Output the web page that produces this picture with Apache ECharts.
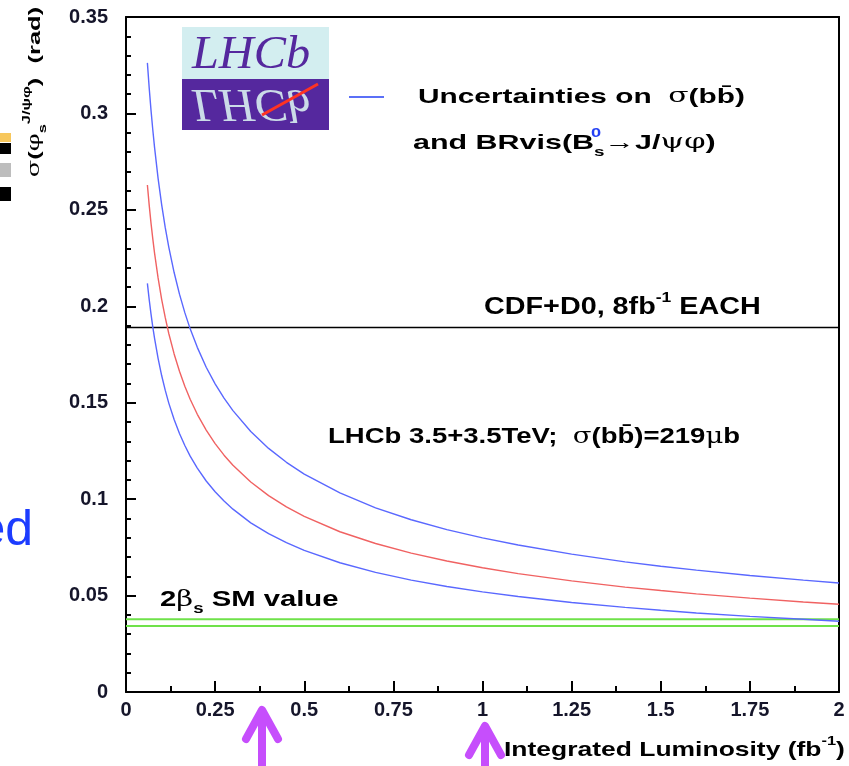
<!DOCTYPE html>
<html>
<head>
<meta charset="utf-8">
<script src="https://cdn.jsdelivr.net/npm/echarts@6/dist/echarts.min.js"></script>
<style>
  html, body { margin: 0; padding: 0; background: #fff; }
  #chart { width: 849px; height: 766px; }
</style>
</head>
<body>
<div id="chart"></div>
<script>
// Integrated luminosity (fb^-1) at which the sensitivity curves are sampled
const lumi = [0.06, 0.065, 0.07, 0.075, 0.08, 0.09, 0.1, 0.11, 0.12, 0.135, 0.15, 0.165, 0.18, 0.2,
              0.225, 0.25, 0.275, 0.3, 0.35, 0.4, 0.45, 0.5, 0.6, 0.7, 0.8, 0.9, 1.0, 1.1, 1.25,
              1.4, 1.5, 1.6, 1.75, 1.9, 2.0];
// sigma(phi_s) in rad: upper edge of the uncertainty band
const upperBand = [0.3262, 0.3134, 0.3020, 0.2918, 0.2825, 0.2663, 0.2527, 0.2409, 0.2307, 0.2175, 0.2063,
                   0.1967, 0.1883, 0.1787, 0.1684, 0.1598, 0.1524, 0.1459, 0.1351, 0.1263, 0.1191, 0.1130,
                   0.1032, 0.0955, 0.0893, 0.0842, 0.0799, 0.0762, 0.0715, 0.0675, 0.0652, 0.0632, 0.0604,
                   0.0580, 0.0565];
// central LHCb expectation at 3.5+3.5 TeV
const central = [0.2629, 0.2526, 0.2434, 0.2352, 0.2277, 0.2147, 0.2036, 0.1942, 0.1859, 0.1753, 0.1663,
                 0.1585, 0.1518, 0.1440, 0.1358, 0.1288, 0.1228, 0.1176, 0.1089, 0.1018, 0.0960, 0.0911,
                 0.0831, 0.0770, 0.0720, 0.0679, 0.0644, 0.0614, 0.0576, 0.0544, 0.0526, 0.0509, 0.0487,
                 0.0467, 0.0455];
// lower edge of the uncertainty band
const lowerBand = [0.2119, 0.2036, 0.1962, 0.1895, 0.1835, 0.1730, 0.1641, 0.1565, 0.1498, 0.1413, 0.1340,
                   0.1278, 0.1223, 0.1161, 0.1094, 0.1038, 0.0990, 0.0948, 0.0877, 0.0821, 0.0774, 0.0734,
                   0.0670, 0.0620, 0.0580, 0.0547, 0.0519, 0.0495, 0.0464, 0.0439, 0.0424, 0.0410, 0.0392,
                   0.0377, 0.0367];
// Tevatron reach (CDF+D0, 8 fb^-1 each) and the Standard Model 2*beta_s band
const tevatronLevel = [0.189];
const smBand = [0.0377, 0.0342];
const lumiRange = [0, 2];
// Axis ticks
const xTicks = ['0', '0.25', '0.5', '0.75', '1', '1.25', '1.5', '1.75', '2'];
const yTicks = ['0', '0.05', '0.1', '0.15', '0.2', '0.25', '0.3', '0.35'];

const FONT = '"Liberation Sans", Arial, Helvetica, sans-serif';
const SERIF = '"DejaVu Serif", "Liberation Serif", serif';
const BLUE_LINE = '#5a68ff';
const RED_LINE = '#f06262';
const BLUE_TXT = '#2440f4';
const RED_TXT = '#ec3a30';
const GREEN = '#6fe24a';
const ARROW = '#c64efc';

const pairs = ys => lumi.map((x, i) => [x, ys[i]]);
const level = v => lumiRange.map(x => [x, v]);

const chart = echarts.init(document.getElementById('chart'), null, { renderer: 'canvas' });

const tickLabel = { fontFamily: FONT, fontSize: 20, fontWeight: 'bold', color: '#15152a' };

function richSet(size, color) {
  const lh = size + 10;
  return {
    n: { fontFamily: FONT, fontSize: size, fontWeight: 'bold', color: color, lineHeight: lh },
    g: { fontFamily: SERIF, fontSize: size, fontWeight: 'normal', color: color, lineHeight: lh },
    sup: { fontFamily: FONT, fontSize: Math.round(size * 0.62), fontWeight: 'bold', color: color, verticalAlign: 'top', lineHeight: lh },
    sub: { fontFamily: FONT, fontSize: Math.round(size * 0.62), fontWeight: 'bold', color: color, verticalAlign: 'bottom', lineHeight: lh }
  };
}

// wide bold label, stretched horizontally
function label(x, y, text, size, color, sx) {
  return {
    type: 'text', x: x, y: y, z: 50, scaleX: sx,
    style: { text: text, rich: richSet(size, color), verticalAlign: 'middle' }
  };
}

const graphics = [
  // slide fragments at the left edge
  { type: 'rect', shape: { x: 0, y: 133, width: 11, height: 9 }, style: { fill: '#f7c75c' } },
  { type: 'rect', shape: { x: 0, y: 143, width: 11, height: 11 }, style: { fill: '#000' } },
  { type: 'rect', shape: { x: 0, y: 163, width: 11, height: 14 }, style: { fill: '#bdbdbd' } },
  { type: 'rect', shape: { x: 0, y: 187, width: 11, height: 14 }, style: { fill: '#000' } },
  { type: 'text', x: 33, y: 556, style: { text: 'ed', fontFamily: FONT, fontSize: 50, fill: '#1c3cff', align: 'right', verticalAlign: 'bottom' } },

  // LHCb logo
  { type: 'rect', shape: { x: 182, y: 27, width: 147, height: 52 }, style: { fill: '#d3eef0' } },
  { type: 'rect', shape: { x: 182, y: 79, width: 147, height: 51 }, style: { fill: '#55289e' } },
  { type: 'text', x: 192, y: 79, scaleX: 1.05, style: { text: 'LHCb', fontFamily: '"Liberation Serif", "DejaVu Serif", serif', fontStyle: 'italic', fontSize: 46, fill: '#55289e', verticalAlign: 'bottom' } },
  { type: 'text', x: 192, y: 79, scaleX: 1.05, scaleY: -1, style: { text: 'LHCb', fontFamily: '"Liberation Serif", "DejaVu Serif", serif', fontStyle: 'italic', fontSize: 46, fill: '#d8eef0', opacity: 0.9, verticalAlign: 'bottom' } },
  { type: 'line', shape: { x1: 262, y1: 115, x2: 318, y2: 84 }, style: { stroke: '#ff3322', lineWidth: 3 } },

  // legend entry
  { type: 'line', shape: { x1: 349, y1: 97, x2: 384, y2: 97 }, style: { stroke: BLUE_TXT, lineWidth: 1.5 } },
  label(418, 97, '{n|Uncertainties on  }{g|σ}{n|(bb̄)}', 21, BLUE_TXT, 1.42),
  label(413, 143, '{n|and BRvis(B}{sub|s}{n|→J/}{g|ψφ}{n|)}', 21, BLUE_TXT, 1.45),
  { type: 'text', x: 591, y: 133, z: 50, scaleX: 1.4, style: { text: '0', fontFamily: FONT, fontWeight: 'bold', fontSize: 13, fill: BLUE_TXT, verticalAlign: 'middle' } },

  // annotations
  label(484, 308, '{n|CDF+D0, 8fb}{sup|-1}{n| EACH}', 23, '#000', 1.25),
  label(328, 437, '{n|LHCb 3.5+3.5TeV;  }{g|σ}{n|(bb̄)=219}{g|μ}{n|b}', 22, RED_TXT, 1.25),
  label(160, 600, '{n|2}{g|β}{sub|s}{n| SM value}', 22, GREEN, 1.33),

  // axis titles
  label(504, 750, '{n|Integrated Luminosity (fb}{sup|-1}{n|)}', 21, '#000', 1.26),
  { type: 'text', x: 35, y: 92, rotation: Math.PI / 2, scaleX: 1.5, z: 50,
    style: { text: '{g|σ}{n|(}{g|φ}{sub|s}{sup|J/ψφ}{n|)  (rad)}', rich: richSet(17, '#15152a'), align: 'center', verticalAlign: 'middle' } },

  // arrows below the axis
  { type: 'polyline', shape: { points: [[246, 739], [262, 710], [278, 739]] }, style: { stroke: ARROW, lineWidth: 8, lineCap: 'round', lineJoin: 'round', fill: null } },
  { type: 'line', shape: { x1: 262, y1: 712, x2: 262, y2: 770 }, style: { stroke: ARROW, lineWidth: 8 } },
  { type: 'polyline', shape: { points: [[469, 755], [485, 726], [501, 755]] }, style: { stroke: ARROW, lineWidth: 8, lineCap: 'round', lineJoin: 'round', fill: null } },
  { type: 'line', shape: { x1: 485, y1: 728, x2: 485, y2: 770 }, style: { stroke: ARROW, lineWidth: 8 } }
];

function curve(name, ys, color) {
  return {
    name: name, type: 'line', data: pairs(ys), showSymbol: false, smooth: false,
    lineStyle: { color: color, width: 1.4 }, z: 3
  };
}
function hline(name, v, color, width) {
  return {
    name: name, type: 'line', data: level(v), showSymbol: false,
    lineStyle: { color: color, width: width }, z: 2
  };
}

const option = {
  backgroundColor: '#fff',
  animation: false,
  grid: { left: 126, right: 10, top: 17, bottom: 74, containLabel: false },
  xAxis: [{
    type: 'value', min: 0, max: 2, interval: 0.25,
    axisLine: { show: true, lineStyle: { color: '#000', width: 2 } },
    axisTick: { show: true, inside: true, length: 11, lineStyle: { color: '#000', width: 2 } },
    minorTick: { show: true, splitNumber: 2, length: 6, lineStyle: { color: '#000', width: 2 } },
    splitLine: { show: false },
    axisLabel: Object.assign({ margin: 8, formatter: (v) => xTicks[Math.round(v / 0.25)] }, tickLabel)
  }, {
    type: 'value', min: 0, max: 2, position: 'top',
    axisLine: { show: true, onZero: false, lineStyle: { color: '#000', width: 2 } },
    axisTick: { show: false }, axisLabel: { show: false }, splitLine: { show: false }
  }],
  yAxis: [{
    type: 'value', min: 0, max: 0.35, interval: 0.05,
    axisLine: { show: true, lineStyle: { color: '#000', width: 2 } },
    axisTick: { show: true, inside: true, length: 10, lineStyle: { color: '#000', width: 2 } },
    minorTick: { show: true, splitNumber: 5, length: 5, lineStyle: { color: '#000', width: 2 } },
    splitLine: { show: false },
    axisLabel: Object.assign({ margin: 18, formatter: (v) => yTicks[Math.round(v / 0.05)] }, tickLabel)
  }, {
    type: 'value', min: 0, max: 0.35, position: 'right',
    axisLine: { show: true, onZero: false, lineStyle: { color: '#000', width: 2 } },
    axisTick: { show: false }, axisLabel: { show: false }, splitLine: { show: false }
  }],
  series: [
    hline('CDF+D0', tevatronLevel[0], '#000', 1.6),
    hline('SM high', smBand[0], GREEN, 2),
    hline('SM low', smBand[1], GREEN, 2),
    curve('upper', upperBand, BLUE_LINE),
    curve('central', central, RED_LINE),
    curve('lower', lowerBand, BLUE_LINE)
  ],
  graphic: graphics
};

chart.setOption(option);
</script>
</body>
</html>
